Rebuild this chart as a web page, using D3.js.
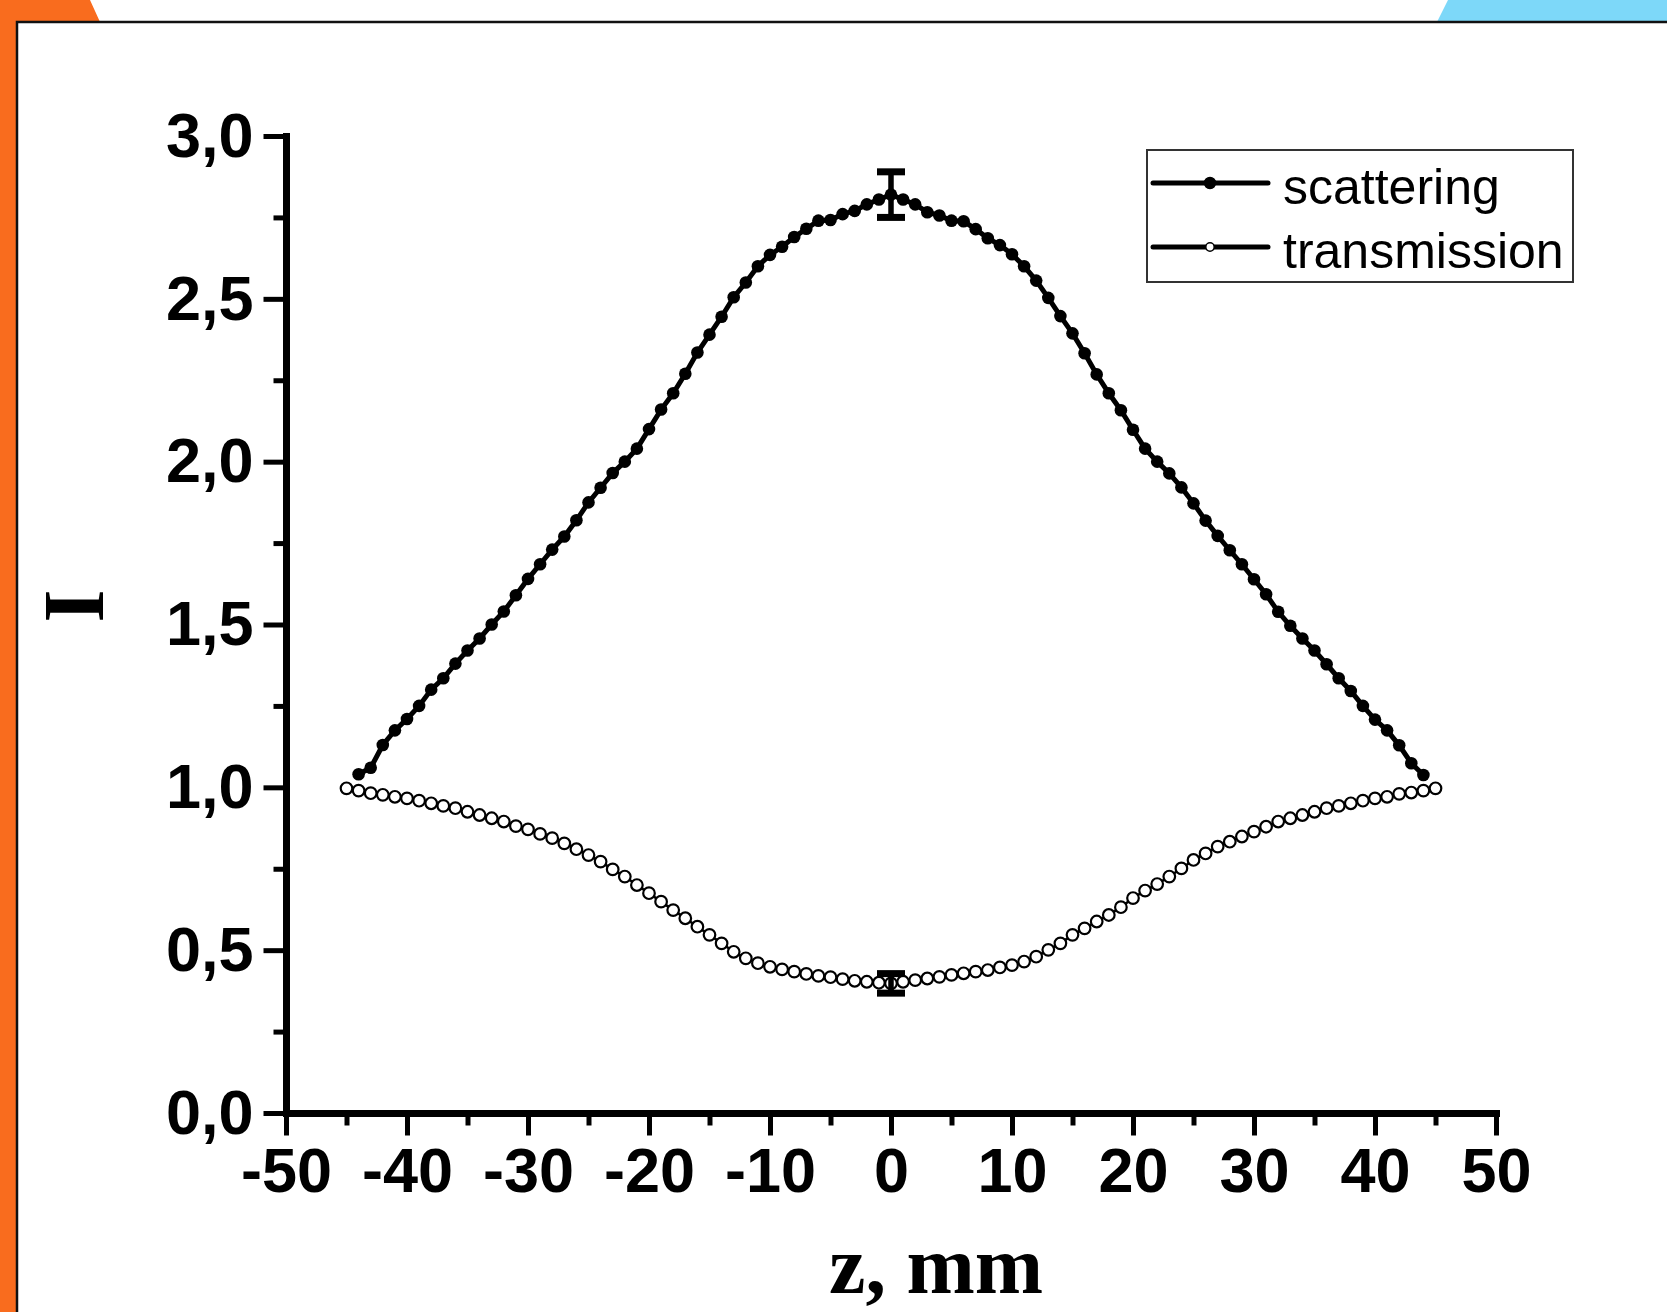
<!DOCTYPE html>
<html lang="en">
<head>
    <meta charset="utf-8">
    <title>scattering / transmission</title>
    <script src="https://d3js.org/d3.v7.min.js"></script>
    <style type="text/css">
        body { margin: 0; background: #fff; }
        .tick text { font-family: "Liberation Sans", Arial, sans-serif; font-weight: bold; }
        .title { font-family: "Liberation Serif", "Times New Roman", serif; font-weight: bold; }
        .legend text { font-family: "Liberation Sans", Arial, sans-serif; }
    </style>
</head>
<body>
    <div id="chart"></div>
    <script>
        // data, z step = 1 mm
        var scatZ = d3.range(-44, 45);
        var scatI = [
            1.04, 1.06, 1.13, 1.175, 1.21, 1.25, 1.30, 1.335, 1.38, 1.42,
            1.457, 1.50, 1.54, 1.59, 1.64, 1.685, 1.73, 1.77, 1.82, 1.875,
            1.92, 1.965, 2.00, 2.04, 2.10, 2.16, 2.21, 2.27, 2.335, 2.39,
            2.445, 2.505, 2.55, 2.60, 2.635, 2.66, 2.69, 2.715, 2.74, 2.742,
            2.76, 2.77, 2.79, 2.805, 2.82,
            2.805, 2.79, 2.766, 2.756, 2.74, 2.738, 2.714, 2.686, 2.665, 2.637,
            2.60, 2.556, 2.503, 2.447, 2.394, 2.333, 2.268, 2.21, 2.158, 2.098,
            2.04, 2.00, 1.964, 1.921, 1.872, 1.819, 1.772, 1.728, 1.685, 1.639,
            1.593, 1.539, 1.496, 1.457, 1.42, 1.378, 1.335, 1.296, 1.25, 1.208,
            1.175, 1.129, 1.074, 1.038
        ];

        var transZ = d3.range(-45, 46);
        var transI = [
            0.997, 0.990, 0.982, 0.977, 0.971, 0.966, 0.959, 0.951, 0.943, 0.936,
            0.925, 0.915, 0.905, 0.895, 0.881, 0.871, 0.857, 0.844, 0.828, 0.810,
            0.792, 0.772, 0.748, 0.726, 0.700, 0.675, 0.649, 0.623, 0.598, 0.572,
            0.547, 0.521, 0.495, 0.475, 0.460, 0.449, 0.441, 0.434, 0.427, 0.421,
            0.417, 0.411, 0.406, 0.403, 0.400, 0.398,
            0.403, 0.408, 0.413, 0.418, 0.424, 0.429, 0.434, 0.439, 0.447, 0.454,
            0.465, 0.480, 0.501, 0.521, 0.547, 0.567, 0.588, 0.608, 0.632, 0.660,
            0.683, 0.703, 0.726, 0.751, 0.777, 0.797, 0.818, 0.833, 0.849, 0.864,
            0.879, 0.895, 0.905, 0.915, 0.925, 0.936, 0.943, 0.951, 0.959, 0.966,
            0.971, 0.980, 0.984, 0.990, 0.997
        ];

        // error bars at z = 0
        var errZ = [0];
        var scatErr = [0.07];
        var transErr = [0.03];

        var xMajor = [-50, -40, -30, -20, -10, 0, 10, 20, 30, 40, 50];
        var xMinor = [-45, -35, -25, -15, -5, 5, 15, 25, 35, 45];
        var yMajor = [0, 0.5, 1, 1.5, 2, 2.5, 3];
        var yMinor = [0.25, 0.75, 1.25, 1.75, 2.25, 2.75];

        var seriesNames = ["scattering", "transmission"];

        var width = 1667, height = 1312;

        var svg = d3.select("#chart")
            .append("svg")
            .attr("width", width)
            .attr("height", height);

        // slide decoration
        svg.append("rect").attr("width", width).attr("height", height).attr("fill", "#fff");
        svg.append("polygon")
            .attr("points", "0,0 90,0 100,22 17,22 17,1312 0,1312")
            .attr("fill", "#f96c1e");
        svg.append("polygon")
            .attr("points", "1448,0 1667,0 1667,22 1437,22")
            .attr("fill", "#7dd8f9");
        svg.append("path")
            .attr("d", "M17,1312 V22 H1667")
            .attr("fill", "none")
            .attr("stroke", "#111")
            .attr("stroke-width", 2.5);

        var x = d3.scaleLinear().domain([-50, 50]).range([286, 1496]);
        var y = d3.scaleLinear().domain([0, 3]).range([1113, 136]);

        var fmt = function (d) { return d.toFixed(1).replace(".", ","); };

        // minor ticks
        svg.append("g")
            .attr("transform", "translate(0," + y(0) + ")")
            .call(d3.axisBottom(x).tickValues(xMinor).tickSize(12.5).tickFormat(""))
            .call(g => g.select(".domain").remove())
            .selectAll("line").attr("stroke", "#000").attr("stroke-width", 5);
        svg.append("g")
            .attr("transform", "translate(" + x(-50) + ",0)")
            .call(d3.axisLeft(y).tickValues(yMinor).tickSize(12.5).tickFormat(""))
            .call(g => g.select(".domain").remove())
            .selectAll("line").attr("stroke", "#000").attr("stroke-width", 5);

        // major axes
        var xAxis = svg.append("g")
            .attr("transform", "translate(0," + y(0) + ")")
            .call(d3.axisBottom(x).tickValues(xMajor).tickSize(22.5).tickSizeOuter(0).tickPadding(12).tickFormat(d3.format("d")));
        var yAxis = svg.append("g")
            .attr("transform", "translate(" + x(-50) + ",0)")
            .call(d3.axisLeft(y).tickValues(yMajor).tickSize(22.5).tickSizeOuter(0).tickPadding(10).tickFormat(fmt));

        [xAxis, yAxis].forEach(function (g) {
            g.select(".domain").attr("stroke", "#000").attr("stroke-width", 7).attr("stroke-linecap", "square");
            g.selectAll(".tick line").attr("stroke", "#000").attr("stroke-width", 5);
            g.selectAll(".tick text").attr("fill", "#000").attr("font-size", 63);
        });
        xAxis.selectAll(".tick text").text(function (d) { return d3.format("d")(d).replace("\u2212", "-"); });

        // axis titles
        svg.append("text")
            .attr("class", "title")
            .attr("x", 936)
            .attr("y", 1293)
            .attr("text-anchor", "middle")
            .attr("font-size", 82)
            .text("z, mm");
        svg.append("text")
            .attr("class", "title")
            .attr("transform", "translate(103,606) rotate(-90)")
            .attr("text-anchor", "middle")
            .attr("font-size", 86)
            .text("I");

        var line = d3.line()
            .x(function (d) { return x(d[0]); })
            .y(function (d) { return y(d[1]); });

        var scat = d3.zip(scatZ, scatI);
        var trans = d3.zip(transZ, transI);

        // transmission
        svg.append("path")
            .datum(trans)
            .attr("d", line)
            .attr("fill", "none")
            .attr("stroke", "#000")
            .attr("stroke-width", 2.5);
        svg.selectAll("circle.trans")
            .data(trans)
            .enter()
            .append("circle")
            .attr("class", "trans")
            .attr("cx", function (d) { return x(d[0]); })
            .attr("cy", function (d) { return y(d[1]); })
            .attr("r", 5.8)
            .attr("fill", "#fff")
            .attr("stroke", "#000")
            .attr("stroke-width", 2.2);

        // scattering
        svg.append("path")
            .datum(scat)
            .attr("d", line)
            .attr("fill", "none")
            .attr("stroke", "#000")
            .attr("stroke-width", 5);
        svg.selectAll("circle.scat")
            .data(scat)
            .enter()
            .append("circle")
            .attr("class", "scat")
            .attr("cx", function (d) { return x(d[0]); })
            .attr("cy", function (d) { return y(d[1]); })
            .attr("r", 6.3)
            .attr("fill", "#000");

        // error bars
        var bars = [];
        errZ.forEach(function (z, i) {
            var si = scatI[scatZ.indexOf(z)];
            var ti = transI[transZ.indexOf(z)];
            bars.push([z, si, scatErr[i]]);
            bars.push([z, ti, transErr[i]]);
        });
        var eb = svg.selectAll("g.err")
            .data(bars)
            .enter()
            .append("g")
            .attr("class", "err")
            .attr("stroke", "#000");
        eb.append("line")
            .attr("x1", function (d) { return x(d[0]); })
            .attr("x2", function (d) { return x(d[0]); })
            .attr("y1", function (d) { return y(d[1] + d[2]); })
            .attr("y2", function (d) { return y(d[1] - d[2]); })
            .attr("stroke-width", 5.5);
        [1, -1].forEach(function (s) {
            eb.append("line")
                .attr("x1", function (d) { return x(d[0]) - 14; })
                .attr("x2", function (d) { return x(d[0]) + 14; })
                .attr("y1", function (d) { return y(d[1] + s * d[2]); })
                .attr("y2", function (d) { return y(d[1] + s * d[2]); })
                .attr("stroke-width", 7);
        });

        // legend
        var legend = svg.append("g").attr("class", "legend");
        legend.append("rect")
            .attr("x", 1147)
            .attr("y", 150)
            .attr("width", 426)
            .attr("height", 132)
            .attr("fill", "#fff")
            .attr("stroke", "#333")
            .attr("stroke-width", 2);
        var rows = legend.selectAll("g.row")
            .data(seriesNames)
            .enter()
            .append("g")
            .attr("class", "row")
            .attr("transform", function (d, i) { return "translate(0," + (183 + i * 64) + ")"; });
        rows.append("line")
            .attr("x1", 1153).attr("x2", 1268)
            .attr("stroke", "#000")
            .attr("stroke-width", 5)
            .attr("stroke-linecap", "round");
        rows.append("circle")
            .attr("cx", 1210)
            .attr("r", function (d, i) { return i == 0 ? 5.5 : 4.2; })
            .attr("fill", function (d, i) { return i == 0 ? "#000" : "#fff"; })
            .attr("stroke", "#000")
            .attr("stroke-width", 1.5);
        rows.append("text")
            .attr("x", 1283)
            .attr("y", 21)
            .attr("font-size", 50)
            .attr("fill", "#000")
            .text(function (d) { return d; });
    </script>
</body>
</html>
